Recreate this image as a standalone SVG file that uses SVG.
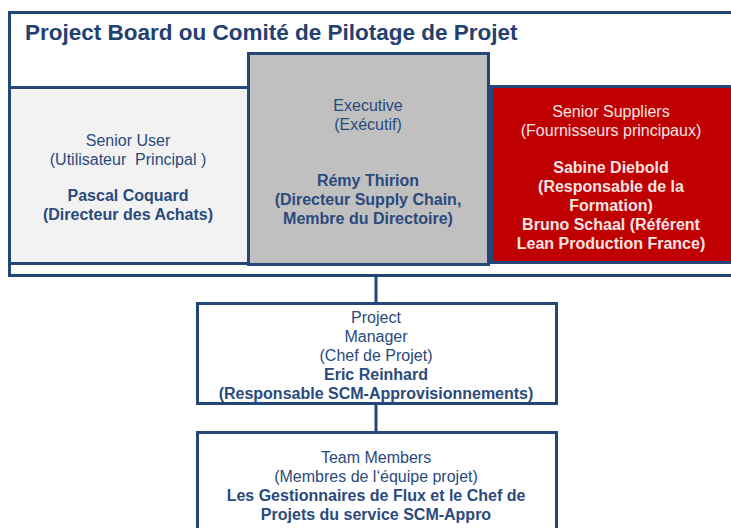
<svg xmlns="http://www.w3.org/2000/svg" width="731" height="528" viewBox="0 0 731 528">
<style>
.b{stroke:#24477a;stroke-width:3;}
.t{font-family:"Liberation Sans",Arial,sans-serif;font-size:16px;fill:#2a4a7c;text-anchor:middle;}
.bd{font-weight:bold;}
.w{fill:#f6e4e4;}
.title{font-family:"Liberation Sans",Arial,sans-serif;font-size:22.5px;font-weight:bold;fill:#23406f;}
</style>
<rect width="731" height="528" fill="#ffffff"/>
<g id="board">
<rect class="b" x="9.5" y="12.5" width="730" height="263" fill="#ffffff"/>
<text class="title" x="25" y="40">Project Board ou Comité de Pilotage de Projet</text>
</g>
<g id="connectors">
<line class="b" x1="376" y1="276" x2="376" y2="303"/>
<line class="b" x1="376" y1="403" x2="376" y2="432"/>
</g>
<g id="senior-user">
<rect class="b" x="9.5" y="87.5" width="239" height="176" fill="#f2f2f2"/>
<text class="t" x="128" y="146">Senior User</text>
<text class="t" x="128" y="165" xml:space="preserve">(Utilisateur  Principal )</text>
<text class="t bd" x="128" y="201">Pascal Coquard</text>
<text class="t bd" x="128" y="220">(Directeur des Achats)</text>
</g>
<g id="executive">
<rect class="b" x="248.5" y="53.5" width="240" height="211" fill="#c0c0c0"/>
<text class="t" x="368" y="111">Executive</text>
<text class="t" x="368" y="130">(Exécutif)</text>
<text class="t bd" x="368" y="186">Rémy Thirion</text>
<text class="t bd" x="368" y="205">(Directeur Supply Chain,</text>
<text class="t bd" x="368" y="224">Membre du Directoire)</text>
</g>
<g id="senior-suppliers">
<rect class="b" x="491.5" y="86.5" width="245" height="176" fill="#c00000"/>
<text class="t w" x="611" y="117">Senior Suppliers</text>
<text class="t w" x="611" y="136">(Fournisseurs principaux)</text>
<text class="t w bd" x="611" y="173">Sabine Diebold</text>
<text class="t w bd" x="611" y="192">(Responsable de la</text>
<text class="t w bd" x="611" y="211">Formation)</text>
<text class="t w bd" x="611" y="230">Bruno Schaal (Référent</text>
<text class="t w bd" x="611" y="249">Lean Production France)</text>
</g>
<g id="project-manager">
<rect class="b" x="197.5" y="303.5" width="359" height="100" fill="#ffffff"/>
<text class="t" x="376" y="323">Project</text>
<text class="t" x="376" y="342">Manager</text>
<text class="t" x="376" y="361">(Chef de Projet)</text>
<text class="t bd" x="376" y="380">Eric Reinhard</text>
<text class="t bd" x="376" y="399">(Responsable SCM-Approvisionnements)</text>
</g>
<g id="team-members">
<rect class="b" x="197.5" y="432.5" width="359" height="110" fill="#ffffff"/>
<text class="t" x="376" y="463">Team Members</text>
<text class="t" x="376" y="482">(Membres de l‘équipe projet)</text>
<text class="t bd" x="376" y="501">Les Gestionnaires de Flux et le Chef de</text>
<text class="t bd" x="376" y="520">Projets du service SCM-Appro</text>
</g>
</svg>
